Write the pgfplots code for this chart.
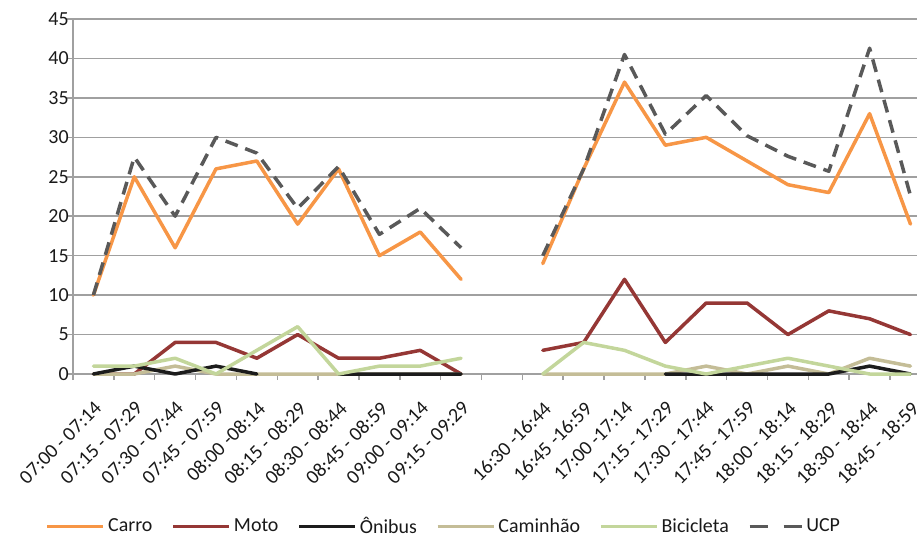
\documentclass[border=0pt]{standalone}
\usepackage{fontspec}
\setmainfont{Carlito}
\usepackage{pgfplots}
\pgfplotsset{compat=1.18}
\usepackage{pgfplotstable}

\definecolor{carro}{HTML}{F79646}
\definecolor{moto}{HTML}{953735}
\definecolor{onibus}{HTML}{1C1C1C}
\definecolor{caminhao}{HTML}{C4BD97}
\definecolor{bici}{HTML}{C3D69B}
\definecolor{ucp}{HTML}{595959}
\definecolor{grade}{HTML}{A0A0A0}

\pgfplotsset{ucplegend/.style={legend image code/.code={%
    \draw[##1, solid, line cap=butt] (0bp,0bp) -- (9bp,0bp) (17bp,0bp) -- (26bp,0bp);}}}

% contagens por intervalo de 15 min (x=10 e o intervalo vazio entre os periodos)
\pgfplotstableread{
x  carro moto onibus caminhao bicicleta ucp
0  10    0    0      0        1         10
1  25    0    1      0        1         27.5
2  16    4    0      1        2         20
3  26    4    1      0        0         30
4  27    2    0      0        3         28
5  19    5    nan    0        6         21
6  26    2    0      0        0         26.3
7  15    2    0      0        1         17.7
8  18    3    0      0        1         21
9  12    0    0      0        2         16
10 nan   nan  nan    nan      nan       nan
11 14    3    nan    0        0         15
12 26    4    nan    0        4         26
13 37    12   nan    0        3         40.5
14 29    4    0      0        1         30.4
15 30    9    0      1        0         35.3
16 27    9    0      0        1         30.2
17 24    5    0      1        2         27.6
18 23    8    0      0        1         25.7
19 33    7    1      2        0         41.3
20 19    5    0      1        0         22.6
}\dados

\begin{document}
\begin{tikzpicture}[font=\fontsize{10}{12}\selectfont]
\begin{axis}[
    at={(0,0)}, anchor=south west,
    scale only axis,
    width=422bp, height=177.5bp,
    xmin=-0.5, xmax=20.16,
    ymin=0, ymax=45,
    clip=false,
    unbounded coords=jump,
    axis x line*=bottom, axis y line*=left,
    axis line style={-, draw=grade, line width=0.75bp},
    ytick={0,5,...,45},
    ymajorgrids,
    major grid style={draw=grade, line width=0.75bp},
    xtick={0,1,2,3,4,5,6,7,8,9,11,12,13,14,15,16,17,18,19,20},
    xticklabels={{07:00 - 07:14},{07:15 - 07:29},{07:30 - 07:44},{07:45 - 07:59},{08:00 -08:14},
                 {08:15 - 08:29},{08:30 - 08:44},{08:45 - 08:59},{09:00 - 09:14},{09:15 - 09:29},
                 {16:30 -16:44},{16:45 -16:59},{17:00 -17:14},{17:15 - 17:29},{17:30 - 17:44},
                 {17:45 - 17:59},{18:00 - 18:14},{18:15 - 18:29},{18:30 - 18:44},{18:45 - 18:59}},
    minor xtick={-0.5,0.5,...,19.5},
    tick align=outside,
    major tick length=3bp, minor tick length=3bp,
    xtick style={draw=none},
    minor x tick style={draw=grade, line width=0.75bp},
    ytick style={draw=grade, line width=0.75bp},
    xticklabel style={rotate=45, anchor=north east, inner sep=0pt, text=black!90},
    xticklabel shift=10bp,
    yticklabel style={text=black!90, inner sep=0pt},
    yticklabel shift=-1bp,
    /pgf/number format/assume math mode=true,
    legend columns=6,
    legend style={at={(0.44,-0.43)}, anchor=center, draw=none, fill=none,
        /tikz/every even column/.append style={column sep=8bp},
        nodes={inner sep=1.5bp, text=black!90}},
    legend image code/.code={\draw[#1, line cap=butt] (0bp,0bp) -- (28bp,0bp);},
    every axis plot/.append style={line width=1.75bp, line join=round, line cap=round},
]
\addplot[carro] table[x=x, y=carro] {\dados};
\addplot[moto] table[x=x, y=moto] {\dados};
\addlegendimage{onibus}
\addlegendimage{caminhao}
\addplot[caminhao, forget plot] table[x=x, y=caminhao] {\dados};
\addplot[onibus, forget plot] table[x=x, y=onibus] {\dados};
\addplot[bici] table[x=x, y=bicicleta] {\dados};
\addplot[ucp, line cap=butt, dash pattern=on 6.5bp off 4bp, ucplegend] table[x=x, y=ucp] {\dados};
\legend{Carro, Moto, Ônibus, Caminhão, Bicicleta, UCP}
\end{axis}
\pgfresetboundingbox
\useasboundingbox (-36.5bp,-82bp) rectangle (422bp,187bp);
\end{tikzpicture}
\end{document}
